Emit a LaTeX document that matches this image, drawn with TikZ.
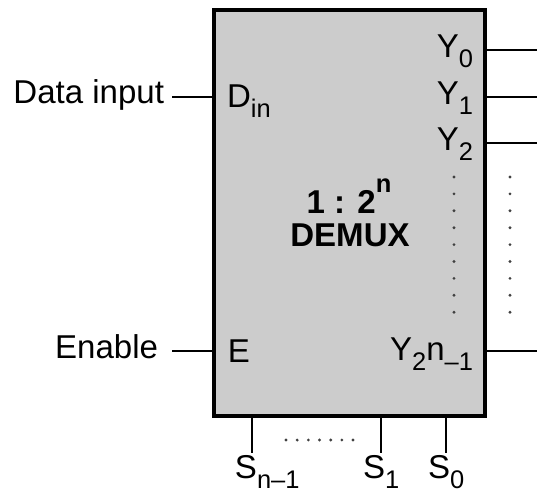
\documentclass[tikz,border=0pt]{standalone}
\usepackage{fontspec}
\setmainfont{Liberation Sans}
\usetikzlibrary{positioning}
\newcommand{\lowidx}[1]{\raisebox{-0.32em}{\fontsize{14.5}{14.5}\selectfont #1}}
\newcommand{\highidx}[1]{\raisebox{0.62em}{\fontsize{14.5}{14.5}\selectfont #1}}

\begin{document}
\begin{tikzpicture}[x=0.02cm, y=-0.02cm, every node/.style={inner sep=0pt, outer sep=0pt, font=\fontsize{18.8}{22}\selectfont}]
      \colorlet{boxbg}{black!20} \colorlet{dotcol}{black!75}
      \tikzset{pinline/.style={line width=1.1pt}, tinydot/.style={fill=dotcol}}
      \useasboundingbox (0,0) rectangle (559,495);
      % block
      \node[draw, line width=2.6pt, fill=boxbg, minimum width=5.42cm, minimum height=8.12cm, anchor=north west] (dmx) at (214,10) {};
      \node[anchor=base, font=\fontsize{18.8}{22}\selectfont\bfseries] (ratio) at (349,213) {1 : 2\highidx{n}};
      \node[anchor=base, font=\fontsize{18.8}{22}\selectfont\bfseries] (name) at (350,246) {DEMUX};
      % inputs
      \node[anchor=base east] (datalbl) at (164,103) {Data input};
      \node[anchor=base east] (enlbl) at (158,358) {Enable};
      \node[anchor=base west] (dinlbl) at (227,107) {D\lowidx{in}};
      \node[anchor=base west] (elbl) at (228,362) {E};
      \coordinate (din) at (172,97);
      \coordinate (en) at (172,351);
      \draw[pinline] (din) -- (din -| dmx.west);
      \draw[pinline] (en) -- (en -| dmx.west);
      % outputs
      \node[anchor=base east] (ylbl0) at (473,57) {Y\lowidx{0}};
      \node[anchor=base east] (ylbl1) at (473,104) {Y\lowidx{1}};
      \node[anchor=base east] (ylbl2) at (473,150) {Y\lowidx{2}};
      \node[anchor=base east] (ylbln) at (473,360) {Y\lowidx{2}n\lowidx{–1}};
      \foreach \nm/\yy in {y0/50, y1/97, y2/143, yn/351} {
        \coordinate (\nm) at (537,\yy);
        \draw[pinline] (dmx.east |- \nm) -- (\nm);
      }
      \foreach \k in {0,...,8} {
        \fill[tinydot] (454,177+16.9*\k) circle[radius=0.9pt];
        \fill[tinydot] (510,177+16.9*\k) circle[radius=0.9pt];
      }
      % selects
      \node[anchor=base west] (slbln) at (235,478) {S\lowidx{n–1}};
      \node[anchor=base west] (slbl1) at (363,478) {S\lowidx{1}};
      \node[anchor=base west] (slbl0) at (428,478) {S\lowidx{0}};
      \foreach \nm/\xx in {sn/252, s1/381, s0/446} {
        \coordinate (\nm) at (\xx,453);
        \draw[pinline] (dmx.south -| \nm) -- (\nm);
      }
      \foreach \k in {0,...,6}
        \fill[tinydot] (286+11.17*\k,440) circle[radius=0.9pt];
    \end{tikzpicture}
\end{document}
